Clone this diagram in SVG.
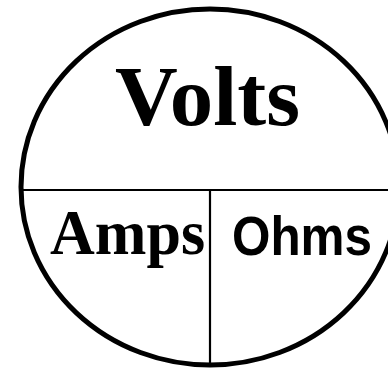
<svg xmlns="http://www.w3.org/2000/svg" width="388" height="369" viewBox="0 0 388 369">
<style>
.outline{fill:none;stroke:#000;stroke-width:5}
.div{fill:none;stroke:#000;stroke-width:2.2}
.serif{font-family:"Liberation Serif","Times New Roman",serif;font-weight:bold;fill:#000}
.sans{font-family:"Liberation Sans",Arial,sans-serif;font-weight:bold;fill:#000}
</style>
<rect width="388" height="369" fill="#fff"/>
<g id="circle"><ellipse class="outline" cx="210" cy="187" rx="189" ry="178"/></g>
<g id="connectors">
<line class="div" x1="21" y1="190" x2="388" y2="190"/>
<line class="div" x1="210" y1="190" x2="210" y2="365"/>
</g>
<g id="volts"><text class="serif" x="115" y="125" font-size="84" textLength="185" lengthAdjust="spacingAndGlyphs">Volts</text></g>
<g id="amps"><text class="serif" x="50" y="254" font-size="63" textLength="155" lengthAdjust="spacingAndGlyphs">Amps</text></g>
<g id="ohms"><text class="sans" x="232" y="255" font-size="55" textLength="140" lengthAdjust="spacingAndGlyphs">Ohms</text></g>
</svg>
